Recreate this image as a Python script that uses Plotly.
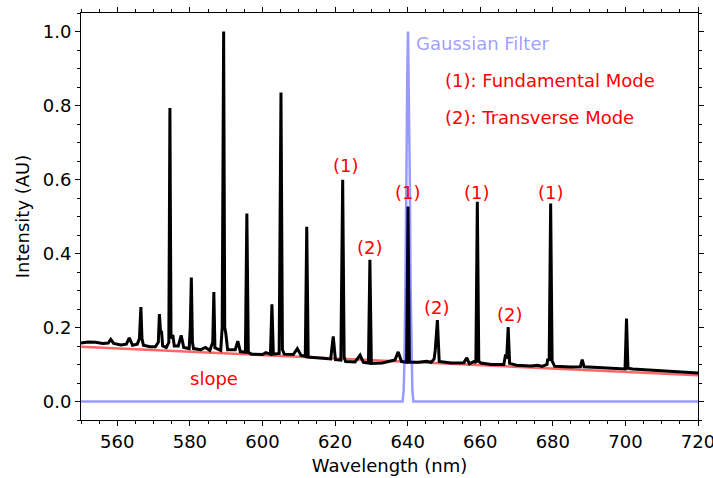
import plotly.graph_objects as go

# Measured spectrum (wavelength nm, intensity AU)
spec_x = [550, 552, 554, 556, 557.5, 558.2, 559, 561, 562.5, 563.3, 564.2, 565.5, 566.1, 566.3, 566.5, 566.8, 567.2,
          569, 570.5, 571.3, 571.6, 571.9, 572.2, 572.5, 573.5, 574.2, 574.5, 574.8, 575.3, 575.7, 576.8, 577.6,
          578.3, 579.8, 580.1, 580.4, 580.7, 581, 583, 584.3, 585.5, 586.3, 586.6, 586.9, 588.5, 588.9, 589.3,
          589.6, 589.9, 590.4, 592.5, 593.2, 593.9, 595.3, 595.7, 596.1, 597, 600, 600.9, 602.2, 602.6, 603,
          604.6, 605.1, 605.5, 606, 608.5, 609.6, 610.6, 611.8, 612.2, 612.6, 615, 618.8, 619.5, 620.1, 621.6,
          622.1, 622.5, 622.9, 625.5, 626.9, 627.8, 629.2, 629.6, 630, 633, 636.5, 637.4, 638.3, 639.7, 640.1,
          640.5, 643, 645.2, 646.5, 647.3, 647.6, 648.2, 648.7, 652, 655.5, 656.3, 657, 658.3, 658.8, 659.2,
          659.6, 660.2, 663, 666.5, 666.9, 667.3, 667.7, 668.1, 670, 674, 675.9, 677, 678.4, 678.6, 679, 679.4,
          679.8, 680.5, 685, 687.6, 688.1, 688.6, 695, 699.9, 700.3, 700.7, 702, 710, 715, 720]
spec_y = [0.158, 0.161, 0.160, 0.157, 0.158, 0.168, 0.157, 0.153, 0.155, 0.172, 0.152, 0.155, 0.17, 0.2, 0.255, 0.17, 0.152,
          0.148, 0.148, 0.16, 0.236, 0.19, 0.188, 0.15, 0.146, 0.16, 0.793, 0.17, 0.18, 0.15, 0.15, 0.179,
          0.146, 0.143, 0.2, 0.335, 0.16, 0.143, 0.14, 0.146, 0.138, 0.16, 0.296, 0.145, 0.138, 0.2, 1.0,
          0.2, 0.184, 0.14, 0.14, 0.163, 0.135, 0.133, 0.508, 0.133, 0.128, 0.127, 0.132, 0.128, 0.263, 0.128,
          0.13, 0.835, 0.14, 0.128, 0.127, 0.143, 0.125, 0.122, 0.472, 0.12, 0.118, 0.115, 0.176, 0.113, 0.112,
          0.599, 0.12, 0.108, 0.107, 0.125, 0.106, 0.104, 0.383, 0.103, 0.104, 0.112, 0.134, 0.108, 0.106, 0.527,
          0.106, 0.106, 0.109, 0.106, 0.115, 0.138, 0.22, 0.108, 0.104, 0.105, 0.118, 0.102, 0.108, 0.105, 0.54,
          0.108, 0.104, 0.1, 0.1, 0.122, 0.12, 0.201, 0.103, 0.098, 0.096, 0.098, 0.095, 0.1, 0.116, 0.11, 0.535,
          0.11, 0.095, 0.093, 0.094, 0.113, 0.094, 0.09, 0.088, 0.224, 0.09, 0.088, 0.084, 0.08, 0.077]

# Baseline slope
slope_x = [550, 720]
slope_y = [0.148, 0.071]

# Gaussian filter
gauss_x = [550, 638.6, 638.9, 639.1, 639.4, 639.6, 639.9, 640.1, 640.3, 640.6, 640.8, 641.1, 641.3, 641.6, 720]
gauss_y = [0.0, 0.0, 0.03, 0.1, 0.32, 0.6, 0.88, 1.0, 0.88, 0.6, 0.32, 0.1, 0.03, 0.0, 0.0]

# Mode labels
mode_x = [623.0, 640.1, 659.1, 679.5, 629.6, 648.1, 668.2]
mode_y = [0.637, 0.566, 0.566, 0.566, 0.417, 0.255, 0.236]
mode_text = ["(1)", "(1)", "(1)", "(1)", "(2)", "(2)", "(2)"]

FONT = "DejaVu Sans"
FS = 18

fig = go.Figure()
fig.add_trace(go.Scatter(x=slope_x, y=slope_y, mode="lines",
                         line=dict(color="rgba(255,0,0,0.6)", width=2.5), hoverinfo="skip"))
fig.add_trace(go.Scatter(x=spec_x, y=spec_y, mode="lines",
                         line=dict(color="black", width=3), hoverinfo="skip"))
fig.add_trace(go.Scatter(x=gauss_x, y=gauss_y, mode="lines",
                         line=dict(color="rgba(0,0,255,0.4)", width=2.5), hoverinfo="skip"))

for x, y, t in zip(mode_x, mode_y, mode_text):
    fig.add_annotation(x=x, y=y, text=t, showarrow=False, xanchor="center", yanchor="middle",
                       font=dict(color="red", size=FS, family=FONT))

fig.add_annotation(x=641.7, y=0.967, text="Gaussian Filter", showarrow=False, xanchor="left", yanchor="middle",
                   font=dict(color="rgba(0,0,255,0.4)", size=FS, family=FONT))
fig.add_annotation(x=649.7, y=0.868, text="(1): Fundamental Mode", showarrow=False, xanchor="left", yanchor="middle",
                   font=dict(color="red", size=FS, family=FONT))
fig.add_annotation(x=649.7, y=0.768, text="(2): Transverse Mode", showarrow=False, xanchor="left", yanchor="middle",
                   font=dict(color="red", size=FS, family=FONT))
fig.add_annotation(x=586.6, y=0.062, text="slope", showarrow=False, xanchor="center", yanchor="middle",
                   font=dict(color="red", size=FS, family=FONT))

axis_common = dict(showline=True, linecolor="black", linewidth=1, mirror="allticks",
                   ticks="outside", ticklen=5, tickwidth=1, tickcolor="black",
                   showgrid=False, zeroline=False, automargin=False, ticklabeloverflow="allow",
                   tickfont=dict(size=FS, family=FONT, color="black"))

fig.update_xaxes(range=[550, 720], dtick=20, tick0=560,
                 minor=dict(dtick=5, tick0=550, ticks="outside", ticklen=3, tickcolor="black", showgrid=False),
                 title=dict(text="Wavelength (nm)", font=dict(size=FS, family=FONT, color="black"), standoff=8),
                 **axis_common)
fig.update_yaxes(range=[-0.05, 1.05], dtick=0.2, tick0=0, tickformat=".1f",
                 minor=dict(dtick=0.05, tick0=0, ticks="outside", ticklen=3, tickcolor="black", showgrid=False),
                 title=dict(text="Intensity (AU)", font=dict(size=FS, family=FONT, color="black"), standoff=8),
                 **axis_common)

fig.update_layout(width=713, height=478, margin=dict(l=81, r=15, t=13, b=58),
                  plot_bgcolor="white", paper_bgcolor="white", showlegend=False,
                  font=dict(family=FONT))

fig.write_html("out.html")
